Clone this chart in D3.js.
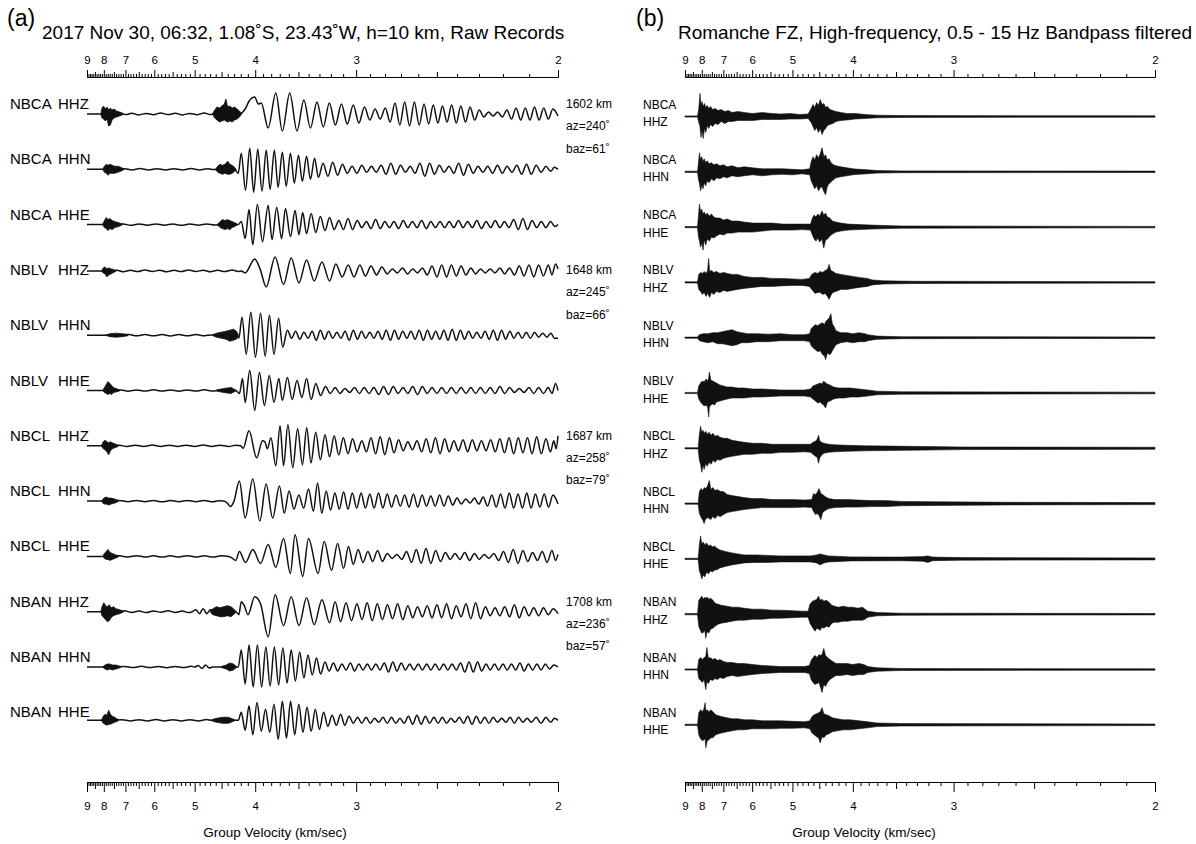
<!DOCTYPE html>
<html>
<head>
<meta charset="utf-8">
<script src="https://cdn.jsdelivr.net/npm/d3@7"></script>
<style>
body { margin: 0; background: #fff; }
svg text { font-family: "Liberation Sans", Arial, Helvetica, sans-serif; fill: #000; }
.axis path, .axis line { stroke: #000; stroke-width: 1; }
</style>
</head>
<body>
<svg id="chart" width="1196" height="844"></svg>
<script>
// station info
var stations = ["NBCA", "NBLV", "NBCL", "NBAN"];
var channels = ["HHZ", "HHN", "HHE"];
var distKm = [1602, 1648, 1687, 1708];
var azDeg = [240, 245, 258, 236];
var bazDeg = [61, 66, 79, 57];
var velLabels = [9, 8, 7, 6, 5, 4, 3, 2];
// mean offset of each raw trace (relative amplitude)
var dcShift = [0, 0, 0, 9, 0, 0, 0, 0, 0, 0, 0, 2];

// raw records: [slowness (s/1000 km), amplitude] extrema
var rawCaZ = [[111.1,0],[122.5,0],[134,0],[138,0.9],[143,-0.6],[148,0.7],[154,-0.9],[160,0.6],[166,-0.7],[172,0.9],[178,-0.6],[184,0.7],[190,-0.9],[196,0.6],[202,-0.7],[208,0.9],[213,-0.6],[216,0],[237,0],[241.7,5],[245,13],[249.6,17],[252.5,10],[255,11],[260.7,-14],[267,21],[272.4,-17],[278.5,21],[284.5,-17],[290.2,14],[295.6,-14],[301,12],[306.2,-13],[311.2,11],[316.2,-11],[321.2,10],[326,-10],[331,9],[335.6,-9],[340.2,7],[344.6,-6],[349,5],[353.2,-5],[357.4,6],[361.4,-8],[365.4,11],[369.4,-11],[373.4,12],[377.4,-12],[381.4,12],[385.4,-11],[389.4,10],[393.2,-10],[397,9],[400.8,-9],[404.6,8],[408.4,-8],[412.2,9],[416,-9],[419.8,8],[423.6,-8],[427.4,7],[431.2,-6],[435,4],[438.8,-3],[442.6,2],[446.4,-2],[450.2,2],[454,-3],[457.8,4],[461.6,-5],[465.4,6],[469.2,-6],[473,6],[476.8,-6],[480.6,7],[484.4,-6],[488.2,6],[492,-5],[495.8,5],[500,-2]];
var rawCaN = [[111.1,0],[124,0],[142,0.6],[148,-0.6],[155,0.7],[162,-0.6],[169,0.6],[176,-0.7],[183,0.6],[190,-0.6],[197,0.7],[204,-0.6],[211,0.6],[216,-0.3],[233,0],[236,-4],[238.5,16],[242,-21],[245.5,21],[248.7,-23],[252.1,20],[255.6,-22],[259.1,19],[262.3,-20],[265.8,19],[268.9,-18],[272.4,17],[275.6,-17],[279.1,16],[282.3,-14],[285.7,14],[288.9,-12],[292.4,13],[295.6,-10],[299,11],[302.2,-8],[306,6],[310,-7],[314,7],[318,-6],[322,5],[326,-4],[330,3],[334,-4],[338,4],[342,-3],[346,3],[350,-3],[354,4],[358,-5],[362,6],[366,-5],[370,4],[374,-3],[378,3],[382,-4],[386,6],[390,-7],[394,6],[398,-5],[402,4],[406,-3],[410,3],[414,-4],[418,6],[422,-6],[426,5],[430,-4],[434,3],[438,-3],[442,3],[446,-4],[450,4],[454,-4],[458,3],[462,-3],[466,4],[470,-5],[474,5],[478,-5],[482,4],[486,-3],[490,3],[494,-2],[497,2],[500,0]];
var rawCaE = [[111.1,0],[124,0],[141,0.6],[147,-0.7],[154,0.6],[161,-0.6],[168,0.7],[175,-0.6],[182,0.6],[189,-0.7],[196,0.6],[203,-0.6],[210,0.7],[217,-0.3],[236,0],[238.5,3],[241.7,-14],[244.9,15],[248,-20],[251.8,20],[256,-17],[260.7,19],[263.9,-15],[267.7,17],[271.8,-14],[275,16],[279.1,-12],[282.9,14],[286.1,-10],[289.2,12],[292.4,-9],[296.2,11],[300,-8],[303.8,8],[307.6,-6],[311.4,7],[315.2,-5],[319,4],[322.8,-5],[326.6,6],[330.4,-5],[334.2,4],[338,-3],[341.8,3],[345.6,-4],[349.4,5],[353.2,-4],[357,3],[360.8,-3],[364.6,3],[368.4,-4],[372.2,4],[376,-3],[379.8,3],[383.6,-3],[387.4,4],[391.2,-4],[395,3],[398.8,-3],[402.6,3],[406.4,-3],[410.2,3],[414,-3],[417.8,4],[421.6,-3],[425.4,3],[429.2,-3],[433,4],[436.8,-4],[440.6,3],[444.4,-3],[448.2,4],[452,-3],[455.8,3],[459.6,-3],[463.4,5],[467.2,-5],[471,6],[474.8,-5],[478.6,4],[482.4,-3],[486.2,3],[490,-3],[493.8,3],[497.6,-2],[500,0]];
var rawLvZ = [[111.1,0],[123,0],[133,0],[136,0.7],[141,-0.9],[147,0.6],[153,-0.7],[159,0.9],[165,-0.6],[171,0.7],[177,-0.9],[183,0.6],[189,-0.7],[195,0.9],[201,-0.6],[207,0.7],[213,-0.9],[219,0.6],[225,-0.7],[231,0.9],[236,-0.6],[238.5,0],[241.7,-2],[249.6,12],[254,2],[259.1,-16],[266.4,14],[273.4,-13.5],[279.7,13],[286.1,-12],[292.4,11],[298.7,-10],[305.1,9],[311.4,-10],[316.6,7],[321.8,-6],[326.8,6],[331.6,-6],[336.4,6],[341,-5],[345.6,5],[350.2,-4],[354.6,4],[359,-3],[363.2,2],[367.4,-2],[371.6,3],[375.8,-3],[380,2],[384,-2],[388,3],[392,-4],[396,5],[400,-6],[404,6],[408,-6],[412,6],[416,-5],[420,5],[424,-4],[428,3],[432,-3],[436,2],[440,-2],[444,2],[448,-2],[452,3],[456,-3],[460,3],[464,-4],[468,5],[472,-5],[476,6],[480,-6],[484,6],[488,-5],[492,6],[495,-4],[498,7],[500,2]];
var rawLvN = [[111.1,0],[126,0],[146,0.6],[152,-0.6],[159,0.7],[166,-0.6],[173,0.6],[180,-0.7],[187,0.6],[194,-0.6],[201,0.7],[208,-0.6],[214,0.3],[228,0],[231,-2],[234,3],[236.5,-3],[239.1,18],[242.6,-19],[246.4,23],[250.2,-22],[254.4,22],[258.2,-21],[261.7,20],[265.5,-19],[269.3,17],[272.7,-12],[276.6,5],[280,-3],[283.4,4],[286.8,-4],[290.2,3],[293.6,-3],[297,4],[300.4,-5],[303.8,5],[307.2,-4],[310.6,4],[314,-3],[317.4,3],[320.8,-3],[324.2,4],[327.6,-5],[331,5],[334.4,-4],[337.8,4],[341.2,-3],[344.6,3],[348,-3],[351.4,4],[354.8,-4],[358.2,5],[361.6,-5],[365,5],[368.4,-4],[371.8,4],[375.2,-3],[378.6,4],[382,-4],[385.4,5],[388.8,-5],[392.2,5],[395.6,-4],[399,4],[402.4,-4],[405.8,5],[409.2,-5],[412.6,6],[416,-5],[419.4,5],[422.8,-4],[426.2,4],[429.6,-3],[433,3],[436.4,-3],[439.8,4],[443.2,-4],[446.6,5],[450,-5],[453.4,5],[456.8,-4],[460.2,4],[463.6,-3],[467,3],[470.4,-3],[473.8,3],[477.2,-3],[480.6,3],[484,-2],[487.4,2],[490.8,-2],[494.2,2],[497,-3],[500,-3]];
var rawLvE = [[111.1,0],[124,0],[139,0.6],[145,-0.7],[152,0.6],[159,-0.6],[166,0.7],[173,-0.6],[180,0.6],[187,-0.7],[194,0.6],[201,-0.6],[208,0.7],[215,-0.6],[222,0.6],[229,-0.7],[234,0],[237,-3],[239.5,12],[241.7,-12],[245.5,20],[249.6,-20],[253.5,18],[257.6,-15],[261.6,15],[265.5,-12],[269.5,12],[272.4,-10],[276.6,13],[280.5,-9],[284.5,10],[288.5,-7],[292.4,12],[296.2,-9],[300,7],[304,-5],[308,4],[312,-3],[316,3],[320,-3],[324,2],[328,-2],[332,3],[336,-3],[340,3],[344,-3],[348,3],[352,-4],[356,4],[360,-4],[364,4],[368,-3],[372,3],[376,-3],[380,4],[384,-4],[388,4],[392,-3],[396,3],[400,-3],[404,3],[408,-3],[412,3],[416,-3],[420,3],[424,-3],[428,3],[432,-3],[436,3],[440,-3],[444,3],[448,-3],[452,4],[456,-3],[460,3],[464,-2],[468,2],[472,-2],[476,3],[480,-3],[484,3],[488,-3],[492,3],[495,-3],[498,7],[500,0]];
var rawClZ = [[111.1,0],[123,0],[134,0],[138,0.6],[144,-0.7],[151,0.6],[158,-0.6],[165,0.7],[172,-0.6],[179,0.6],[186,-0.7],[193,0.6],[200,-0.6],[207,0.7],[214,-0.6],[221,0.6],[228,-0.7],[234,0.6],[238,0],[240,-2.5],[244.9,15],[251.2,-12],[256,5],[258,4],[260,-3],[263,8],[267,-20],[270.5,20],[273.4,-20],[277,21],[281,-22],[285,17],[289,-19],[292.5,18],[296,-17],[300,13.5],[303.8,-14],[307.6,11],[311.4,-11],[315.2,10],[319,-9],[322.8,8],[326.6,-8],[330.4,7],[334.2,-6],[338,5],[341.8,-6],[345.6,8],[349.4,-8],[353.2,9],[357,-9],[360.8,8],[364.6,-7],[368.4,6],[372.2,-5],[376,4],[379.8,-4],[383.6,5],[387.4,-6],[391.2,7],[395,-7],[398.8,8],[402.6,-8],[406.4,7],[410.2,-6],[414,5],[417.8,-5],[421.6,6],[425.4,-6],[429.2,6],[433,-5],[436.8,5],[440.6,-5],[444.4,6],[448.2,-6],[452,7],[455.8,-7],[459.6,8],[463.4,-8],[467.2,8],[471,-7],[474.8,8],[478.6,-8],[482.4,9],[486.2,-8],[490,7],[493.8,-6],[496.5,5],[498.5,-3],[500,10]];
var rawClN = [[111.1,0],[123,0],[138,0.6],[145,-0.6],[152,0.7],[159,-0.6],[166,0.6],[173,-0.7],[180,0.6],[187,-0.6],[194,0.7],[201,-0.6],[208,0.6],[215,-0.7],[220,0.3],[224,0],[227,-2],[229.5,-5.5],[232.5,0],[236.9,20],[241.7,-17],[248,22],[253.8,-20],[259,17],[264.4,-17],[270,15],[274,-12],[278,10],[282,-8],[286,6],[290,-7],[294,12],[298,-10],[301.5,18],[305,-12],[308.6,10],[312.2,-9],[315.8,8],[319.4,-8],[323,9],[326.6,-8],[330.2,8],[333.8,-7],[337.4,8],[341,-7],[344.6,7],[348.2,-7],[351.8,8],[355.4,-7],[359,7],[362.6,-6],[366.2,6],[369.8,-5],[373.4,6],[377,-6],[380.6,7],[384.2,-6],[387.8,6],[391.4,-5],[395,5],[398.6,-5],[402.2,6],[405.8,-5],[409.4,5],[413,-4],[416.6,3],[420.2,-3],[423.8,2],[427.4,-2],[431,3],[434.6,-3],[438.2,4],[441.8,-5],[445.4,6],[449,-6],[452.6,7],[456.2,-7],[459.8,8],[463.4,-7],[467,7],[470.6,-7],[474.2,8],[477.8,-7],[481.4,7],[485,-6],[488.6,7],[492.2,-6],[495.8,6],[500,-3]];
var rawClE = [[111.1,0],[124,0],[138,0.6],[145,-0.6],[152,0.7],[159,-0.6],[166,0.6],[173,-0.7],[180,0.6],[187,-0.6],[194,0.7],[201,-0.6],[208,0.6],[215,-0.7],[222,0.6],[228,0],[230,-1],[234,-4],[236.9,5],[242,-6],[248,7],[254.4,-7],[260.7,12],[267,-11],[273.4,18],[279,-17],[282.9,21.6],[289.2,-20],[294,18],[301.9,-17],[307,15],[313,-14],[318,13],[323,-12],[327,10],[331,-8],[335,7],[339,-6],[343,5],[347,-5],[351,6],[355,-5],[359,3],[363,-2],[367,2],[371,-3],[375,5],[379,-6],[383,7],[387,-7],[391,8],[395,-7],[399,6],[403,-5],[407,4],[411,-3],[415,3],[419,-3],[423,4],[427,-4],[431,3],[435,-3],[439,2],[443,-2],[447,3],[451,-4],[455,5],[459,-6],[463,7],[467,-7],[471,6],[475,-5],[479,4],[483,-4],[487,5],[491,-6],[495,6],[498,-4],[500,2]];
var rawAnZ = [[111.1,0],[122.5,0],[138,0],[142,0.9],[148,-0.7],[154,0.6],[160,-0.9],[166,0.7],[172,-0.6],[178,0.9],[184,-0.7],[190,0.6],[195,-0.9],[198,0],[201,2],[204,-2],[207,3],[210,-2],[213,2],[234,0],[236.5,-3],[238.5,10],[241,6],[244,-3],[249.6,15],[254.4,8],[260.7,-25],[266.5,17],[273.4,-14],[279.7,15],[286.1,-14],[292.4,14],[298.7,-13],[305.1,12],[311.4,-11],[316,10],[320.5,-10],[325,9],[329.5,-9],[334,8],[338.2,-8],[342.4,9],[346.6,-9],[350.8,8],[355,-8],[359.2,7],[363.4,-7],[367.6,8],[371.8,-8],[376,6],[380,-6],[384,5],[388,-5],[392,6],[396,-6],[400,7],[404,-6],[408,8],[412,-7],[416,6],[420,-5],[424,8],[428,-7],[432,9],[436,-7],[440,5],[444,-4],[448,4],[452,-4],[456,5],[460,-5],[464,7],[468,-6],[472,5],[476,-4],[480,4],[484,-4],[488,4],[492,-3],[496,3],[500,-2]];
var rawAnN = [[111.1,0],[124,0],[142,0.6],[149,-0.6],[156,0.7],[163,-0.6],[170,0.6],[177,-0.7],[184,0.6],[191,-0.6],[197,0.7],[200,0],[203,1.5],[206,-1.5],[209,2],[212,-1],[215,0],[236,0],[238.5,17],[241.7,-17],[244.9,22],[248.3,-20],[251.8,22],[255.3,-20],[258.8,20],[262.3,-19],[265.8,20],[269.3,-18],[272.8,19],[276.3,-16],[279.7,17],[283.2,-14],[286.7,15],[290.2,-11],[293.6,12],[297.1,-8],[300.6,9],[304,-7],[307.6,5],[311,-4],[314.6,4],[318,-4],[321.6,3],[325,-3],[328.6,4],[332,-4],[335.6,3],[339,-3],[342.6,3],[346,-3],[349.6,3],[353,-3],[356.6,4],[360,-5],[363.6,5],[367,-4],[370.6,4],[374,-3],[377.6,3],[381,-3],[384.6,3],[388,-3],[391.6,3],[395,-3],[398.6,3],[402,-3],[405.6,3],[409,-3],[412.6,3],[416,-3],[419.6,4],[423,-5],[426.6,5],[430,-5],[433.6,5],[437,-4],[440.6,3],[444,-3],[447.6,3],[451,-3],[454.6,3],[458,-3],[461.6,3],[465,-3],[468.6,4],[472,-4],[475.6,3],[479,-3],[482.6,3],[486,-3],[489.6,3],[493,-2],[496.6,2],[500,0]];
var rawAnE = [[111.1,0],[123,0],[140,0.6],[147,-0.7],[154,0.6],[161,-0.6],[168,0.7],[175,-0.6],[182,0.6],[189,-0.7],[196,0.6],[203,-0.6],[210,0.7],[214,0],[236,0],[238.5,8],[241.7,-10],[244.9,14.5],[248,-14.5],[251.5,17.7],[255,-11],[258.5,11],[262,-12],[265.5,16],[269,-19],[272.4,19],[275.8,-17.7],[279.2,19],[282.6,-14.5],[286,16],[289.4,-12],[292.8,13],[296.2,-11],[299.6,11],[303,-9],[306.5,8],[310,-6],[313.5,5],[317,-5],[320.5,6],[324,-5],[327.5,4],[331,-3],[334.5,3],[338,-3],[341.5,3],[345,-3],[348.5,2],[352,-2],[355.5,3],[359,-3],[362.5,3],[366,-3],[369.5,2],[373,-3],[376.5,4],[380,-4],[383.5,5],[387,-4],[390.5,4],[394,-3],[397.5,3],[401,-3],[404.5,3],[408,-3],[411.5,2],[415,-2],[418.5,3],[422,-3],[425.5,4],[429,-4],[432.5,4],[436,-3],[439.5,3],[443,-3],[446.5,3],[450,-2],[453.5,2],[457,-2],[460.5,3],[464,-3],[467.5,3],[471,-2],[474.5,2],[478,-2],[482,3],[486,-3],[490,3],[494,-2],[497,2],[500,0]];

// noisy body-wave bursts in the raw records: [slowness, up, down]
var burstCaZ = [[[122.5,0,0],[123.5,6,4],[124.8,8,5],[126.2,5,7],[127.6,7,5],[129,4,12],[130.4,6,11],[131.8,4,6],[133.5,5,4],[135.5,3,3],[138,2,2],[141,0.5,0.5]],[[215,0.5,0.5],[216.5,4,4],[218.5,7,6],[220.5,6,8],[222.5,8,7],[224.5,10,6],[225.8,15,7],[227.2,7,8],[229,8,7],[231,6,8],[233,7,6],[235,5,5],[237,3,3],[238.5,0.5,0.5]]];
var burstCaN = [[[124,0,0],[125.5,3,3],[127,5,4],[128.5,4,6],[130,5,4],[132,4,4],[134,3,4],[136.5,3,3],[139,2,2],[141.5,0.5,0.5]],[[217.5,0.5,0.5],[219,3,3],[221,5,4],[223,4,5],[225,5,4],[227.4,8,5],[229,5,5],[231,4,4],[233,2,2],[234,0.5,0.5]]];
var burstCaE = [[[124,0,0],[125.5,4,3],[127,7,4],[128.5,5,6],[130,6,4],[132,4,5],[134,3,3],[137,2,2],[140,0.5,0.5]],[[219,0.5,0.5],[221,3,3],[223,5,4],[225,4,5],[227,5,4],[229,4,5],[231,3,3],[233,2,2],[235,0.5,0.5]]];
var burstLvZ = [[[123,0,0],[124.5,3,2],[126,4,3],[127.5,2,6],[129,3,4],[131,2,3],[133,1.5,1.5],[135,0.5,0.5]]];
var burstLvN = [[[126,0,0],[130,1.5,1.5],[135,2,2],[140,1.5,1.5],[145,0.5,0.5]],[[215,0.5,0.5],[218,2,2],[222,3,3],[226,4,4],[229,5,6],[232,6,5],[234.5,4,4],[236,0.5,0.5]]];
var burstLvE = [[[124,0,0],[125.5,3,2],[127,6,3],[128.5,9,4],[130,7,3],[131.5,5,4],[133,3,2],[135,2,1.5],[138,0.5,0.5]],[[218,0.5,0.5],[224,2,2],[230,3,3],[234,0.5,0.5]]];
var burstClZ = [[[123,0,0],[124.5,4,3],[126,5.5,4],[127.5,4,6],[129,3,9],[130.5,4,5],[132,3,3],[134,2,2],[137,0.5,0.5]]];
var burstClN = [[[123,0,0],[125,3,3],[127,4,3],[129,3,4],[131,3,3],[134,2,2],[137,0.5,0.5]]];
var burstClE = [[[124,0,0],[125.5,3,2],[127,5,3],[128.5,7,3],[130,4,4],[132,3,3],[134,2,2],[137,0.5,0.5]]];
var burstAnZ = [[[122.5,0,0],[123.5,5,4],[125,9,6],[126.5,6,8],[128,5,10],[129.5,7,9],[131,4,6],[133,5,4],[135,3,3],[138,2,2],[141,0.5,0.5]],[[213,0.5,0.5],[215,3,3],[218,5,4],[221,4,5],[224,5,5],[227,6,4],[230,5,5],[232,3,3],[234,0.5,0.5]]];
var burstAnN = [[[124,0,0],[126,2,2],[128,3,3],[130,3,2],[132,2,3],[135,2,2],[139,0.5,0.5]],[[222,0.5,0.5],[226,2,2],[229,4,4],[232,3,3],[234.5,0.5,0.5]]];
var burstAnE = [[[123,0,0],[124.5,4,3],[126,6,4],[127.5,5,5],[129,10,4],[130.5,6,4],[132,4,3],[134,3,2],[137,0.5,0.5]],[[214,0.5,0.5],[218,2,2],[223,3,3],[228,3,3],[233,0.5,0.5]]];

// high-frequency (0.5-15 Hz) envelopes: [slowness, up, down]
var hfCaZ = [[111.1,0.6,0.6],[121.5,0.6,0.6],[122.5,8,6],[123.5,23,10],[124.3,12,21],[125.2,15,14],[126.2,10,22],[127.2,13,12],[128.3,9,16],[129.5,11,9],[130.8,8,12],[132.2,10,8],[134,7,10],[136,8,7],[138.5,6,8],[141,7,5],[144,5,7],[147,6,5],[150,4,5],[155,5,4],[160,4,4],[167,3,4],[175,4,3],[183,3,3],[190,2.5,3],[198,3,2.5],[206,2,2.5],[213,2.5,2],[215.5,8,6],[217,12,10],[218.5,9,14],[220,14,11],[221.5,11,16],[223,17,12],[224.5,12,18],[226,13,14],[227.5,9,12],[229,10,9],[231,7,8],[233.5,6,7],[236,5,5],[240,4,4],[245,3,3.5],[252,3,2.5],[260,2,2],[270,1.3,1.3],[290,0.9,0.9],[500,0.7,0.7]];
var hfCaN = [[111.1,0.6,0.6],[121.5,0.6,0.6],[122.3,10,8],[123.1,19,12],[124,12,19],[125,15,13],[126,10,17],[127,13,11],[128.3,9,14],[129.5,11,9],[131,8,11],[133,9,7],[135,7,9],[137.5,8,6],[140,6,7],[143,7,5],[146,5,6],[150,6,4],[155,4,5],[160,5,4],[167,4,3],[175,3,4],[183,3,3],[192,3,2.5],[200,2.5,3],[208,2,2],[214.3,3,3],[215.5,10,9],[217,15,13],[218.5,12,17],[220,17,14],[221.6,14,19],[223,18,16],[224.5,24,15],[226,15,20],[227.4,17,23],[228.8,12,15],[230.3,13,12],[232,9,10],[234,7,8],[236,6,6],[240,5,5],[245,4,4],[250,3,3],[255,2.5,2.5],[262,2,2],[270,1.3,1.3],[290,0.9,0.9],[500,0.7,0.7]];
var hfCaE = [[111.1,0.6,0.6],[121.5,0.6,0.6],[122.3,12,10],[123.1,23,14],[124,15,20],[125,18,16],[126,13,23],[127,15,13],[128.3,12,18],[129.5,14,12],[131.3,11,14],[133,13,10],[135,10,11],[137,9,9],[140,9,7],[143,7,8],[146,8,6],[150,6,6],[155,6,5],[160,5,5],[167,4,5],[175,4,4],[183,4,3],[192,3,3],[200,3,3],[208,3,2.5],[215,3,3],[216.5,9,8],[218,12,12],[219.5,10,14],[221,13,11],[222.5,11,15],[224.5,16,12],[225.9,12,21],[227.4,14,13],[229,10,12],[231,9,9],[233,6,7],[236,5,5],[240,4,4],[246,3,3],[255,2.5,2.5],[265,2,2],[290,1.1,1.1],[500,0.7,0.7]];
var hfLvZ = [[111.1,0.6,0.6],[121.5,0.6,0.6],[122.5,8,7],[124,10,9],[125.5,9,12],[127,11,10],[128.5,9,14],[129.8,12,11],[130.7,24,13],[131.5,11,15],[133,12,10],[135,10,12],[137,11,9],[140,9,10],[143,10,8],[146,9,9],[150,8,8],[154.6,8,7],[160,6,6],[167,5,5],[175,5,4],[183,4,4],[190,4,3.5],[200,3.5,3],[208,3,3],[214,4,4],[216,8,7],[218.7,10,11],[221,9,10],[223,11,10],[225,10,12],[227,12,11],[229,13,14],[230.3,18,17],[231.8,12,13],[233.5,11,10],[236,9,9],[240,8,7],[245,7,7],[250,6,6],[255,5,5],[262,4,4],[266,2.5,2.5],[275,1.6,1.6],[300,1.1,1.1],[500,0.7,0.7]];
var hfLvN = [[111.1,0.6,0.6],[121.5,0.6,0.6],[123,3,3],[126,4,4],[130,4,5],[134,5,4],[138,5,6],[142,6,6],[146,7,7],[150,8,8],[154,6,7],[158,5,5],[163,4,5],[170,4,4],[180,3.5,4],[190,4,3],[200,3,3],[210,3,3],[214.3,4,4],[215.5,9,8],[217,11,10],[219,13,12],[221,12,14],[223,14,13],[225,15,17],[226.5,13,18],[227.4,16,22],[229,18,15],[230.5,20,17],[231.8,24,16],[233,14,13],[234.5,11,10],[236,7,7],[240,5,5],[245,5,4],[250,4,5],[255,5,4],[260,4,4],[262.3,3,3],[270,1.6,1.6],[290,1,1],[500,0.7,0.7]];
var hfLvE = [[111.1,0.6,0.6],[121.5,0.6,0.6],[122.5,7,6],[124,10,9],[125.4,12,11],[127,11,13],[128.5,14,12],[129.8,12,14],[130.7,15,24],[131.3,21,14],[132.5,13,12],[134,12,11],[135.6,11,12],[137.1,10,9],[140,8,8],[143,7,7],[146,6,6],[150,6,5],[155,5,5],[160,5,5],[167,4,4],[175,4,4],[183,3.5,3.5],[190,3,3],[200,3,3],[210,3,3],[215,4,4],[217,7,6],[219,8,8],[221,9,10],[223,10,9],[224.5,9,11],[225.9,12,12],[227.4,10,15],[229,9,9],[231,8,8],[234,6,6],[238,5,5],[243,5,5],[248,5,4],[255,4,4],[262.3,3,3],[270,1.8,1.8],[290,1.2,1.2],[500,0.8,0.8]];
var hfClZ = [[111.1,0.6,0.6],[122,0.6,0.6],[123,14,12],[124,22,16],[125,16,24],[126,18,17],[127,15,21],[128.3,17,15],[129.5,14,18],[131,16,14],[132.7,13,16],[134.2,15,12],[136,12,14],[138,13,11],[140,11,12],[143,10,10],[146,10,9],[150,8,8],[155,7,7],[160,6,6],[167,5,6],[175,5,5],[183,4,5],[190,4,4],[200,4,4],[210,4,3.5],[215,4,4],[217,6,6],[219,7,8],[220.5,9,9],[221.6,13,15],[222.5,8,10],[224,6,7],[226,5,5],[230,4,4],[235,3.5,3.5],[245,3,3],[260,2.5,2.5],[280,2.2,2.2],[310,1.8,1.8],[340,1.3,1.3],[500,1,1]];
var hfClN = [[111.1,0.6,0.6],[122,0.6,0.6],[123,12,10],[124.5,15,14],[126,13,17],[126.9,16,20],[128,15,16],[129.5,17,14],[131.3,23,15],[132.5,14,16],[134,16,13],[136,13,15],[138,14,12],[140.5,12,13],[142.9,12,11],[146,9,9],[150,8,8],[155,7,7],[160,6,6],[167,5,5],[175,5,4],[183,4,4],[190,4,4],[200,4,4],[210,3.5,3.5],[216,4,4],[217.5,10,8],[219,9,11],[220.5,11,10],[222,15,12],[223.5,10,16],[225,9,9],[227,7,7],[230,5,5],[235,4,4],[245,4,3.5],[255,3.5,3.5],[265,3,3],[277,3,3],[290,2.2,2.2],[320,1.8,1.8],[380,1.3,1.3],[500,1,1]];
var hfClE = [[111.1,0.6,0.6],[122,0.6,0.6],[123,14,12],[124,23,15],[125,15,20],[126.2,17,16],[127.5,14,18],[129,16,13],[130.5,13,15],[132,14,12],[134,12,13],[135.6,13,11],[137.1,11,11],[140,9,9],[143,8,8],[146,7,7],[150,6,6],[155,5,5],[160,4,4],[170,4,3.5],[180,3.5,3.5],[190,3,3],[205,3,3],[215,3,3],[220,4,4],[223,5,6],[226,4,4],[230,3,3],[240,2.5,2.5],[248,2,2],[290,1.8,1.8],[308,2.3,2.3],[312,3,3.5],[316,1.8,1.8],[340,1.3,1.3],[500,1,1]];
var hfAnZ = [[111.1,0.6,0.6],[121.5,0.6,0.6],[122.5,14,12],[123.8,16,16],[125,18,19],[126.5,15,18],[127.5,17,16],[128.3,16,24],[129.5,17,17],[130.8,15,19],[132.2,16,15],[134.2,14,14],[136,11,12],[138.5,10,10],[141,9,9],[145.8,8,8],[150,7,7],[155,7,6],[160,6,6],[167,5,5],[175,5,5],[183,4,4],[190,4,4],[200,3.5,3.5],[208,3,3],[213,3,3],[214.5,10,9],[216.5,13,13],[218.7,14,17],[220.1,15,14],[221.6,18,15],[223,14,16],[224.5,15,13],[226,13,14],[228,14,12],[230.3,12,13],[232.5,9,9],[235,8,8],[238,7,8],[242,8,7],[246,7,7],[250,7,6],[254,6,6],[258,7,6],[260,5,5],[262.3,3,3],[270,1.6,1.6],[290,1,1],[500,0.7,0.7]];
var hfAnN = [[111.1,0.6,0.6],[121.5,0.6,0.6],[122.5,10,9],[124,12,11],[125.5,10,13],[127,12,10],[128.3,13,20],[129.2,22,12],[130.5,11,14],[132,12,10],[134,10,11],[136,11,9],[138,9,10],[140,10,8],[142.9,8,9],[146,7,7],[150,7,6],[155,6,7],[160,6,6],[167,5,5],[175,4,4],[183,3.5,3.5],[190,3,3],[200,3,3],[210,3,3],[214,4,4],[215.5,9,10],[217,12,13],[218.7,14,15],[220.5,12,14],[222,15,13],[223.3,14,18],[224.5,15,23],[225.9,21,15],[227.4,14,17],[229,12,13],[231,10,10],[233.5,8,8],[236,6,6],[240,6,6],[245,6,5],[250,5,6],[255,6,5],[259,5,5],[262.3,3,3],[270,1.7,1.7],[290,1,1],[500,0.7,0.7]];
var hfAnE = [[111.1,0.6,0.6],[121.5,0.6,0.6],[122.5,12,10],[124,15,14],[125.5,13,16],[126.8,16,15],[127.8,22,14],[128.3,14,23],[129.5,15,16],[131,13,15],[132.5,15,13],[134.2,13,13],[136.5,10,10],[139,9,9],[142,8,8],[145.8,7,7],[150,6,6],[155,6,5],[160,5,5],[167,5,4],[175,4,4],[183,4,4],[190,4,3.5],[200,3.5,3.5],[210,3,3],[214.5,4,4],[216,8,8],[218,10,10],[220,11,12],[221.6,12,13],[223,13,18],[224.5,17,12],[226,11,13],[228,10,10],[230.3,9,9],[233,7,7],[237,6,6],[242,5,5],[247.8,5,5],[255,4,4],[262.3,3,3],[270,1.8,1.8],[290,1.2,1.2],[500,0.8,0.8]];

var rawTraces = [rawCaZ, rawCaN, rawCaE, rawLvZ, rawLvN, rawLvE, rawClZ, rawClN, rawClE, rawAnZ, rawAnN, rawAnE];
var rawBursts = [burstCaZ, burstCaN, burstCaE, burstLvZ, burstLvN, burstLvE, burstClZ, burstClN, burstClE, burstAnZ, burstAnN, burstAnE];
var hfTraces = [hfCaZ, hfCaN, hfCaE, hfLvZ, hfLvN, hfLvE, hfClZ, hfClN, hfClE, hfAnZ, hfAnN, hfAnE];

var svg = d3.select('#chart');

// slowness scales (s per 1000 km), labelled in group velocity
var xA = d3.scaleLinear().domain([1000 / 9, 500]).range([87, 558]);
var xB = d3.scaleLinear().domain([1000 / 9, 500]).range([685, 1155]);
var amp = d3.scaleLinear().domain([-30, 30]).range([30, -30]);

var rowStep = 55.3;
function labelY(i) { return 104 + rowStep * i; }
function baseA(i) { return labelY(i) + 10; }
function baseB(i) { return 116.5 + rowStep * i; }

// ticks every 0.1 km/s
var allVel = d3.range(20, 91).map(function(d) { return d / 10; });
var halfVel = allVel.filter(function(v) { return Math.abs(v * 2 - Math.round(v * 2)) < 1e-6 && Math.abs(v - Math.round(v)) > 1e-6; });
var minorVel = allVel.filter(function(v) { return Math.abs(v * 2 - Math.round(v * 2)) > 1e-6; });

function drawAxis(x, y, top) {
    var mk = top ? d3.axisTop : d3.axisBottom;
    var sizes = top ? [3, 5, 7] : [4, 7, 10];
    var g = svg.append('g').attr('class', 'axis').attr('transform', 'translate(0,' + y + ')');
    g.append('g').call(mk(x).tickValues(minorVel.map(function(v){ return 1000 / v; })).tickSize(sizes[0]).tickSizeOuter(0).tickFormat(''));
    g.append('g').call(mk(x).tickValues(halfVel.map(function(v){ return 1000 / v; })).tickSize(sizes[1]).tickSizeOuter(0).tickFormat(''));
    g.append('g').call(mk(x).tickValues(velLabels.map(function(v){ return 1000 / v; })).tickSize(sizes[2]).tickSizeOuter(0)
        .tickPadding(top ? 6 : 10)
        .tickFormat(function(d){ return Math.round(1000 / d); }));
    g.selectAll('text').attr('font-size', 11.5).attr('font-family', '"Liberation Sans", Arial, sans-serif');
}
drawAxis(xA, 77, true);
drawAxis(xB, 77, true);
drawAxis(xA, 782, false);
drawAxis(xB, 782, false);

// titles
svg.append('text').attr('x', 7).attr('y', 26).attr('font-size', 23).text('(a)');
svg.append('text').attr('x', 42).attr('y', 39).attr('font-size', 19)
    .text('2017 Nov 30, 06:32, 1.08\u02daS, 23.43\u02daW, h=10 km, Raw Records');
svg.append('text').attr('x', 636).attr('y', 26).attr('font-size', 23).text('(b)');
svg.append('text').attr('x', 678).attr('y', 39).attr('font-size', 19)
    .text('Romanche FZ, High-frequency, 0.5 - 15 Hz Bandpass filtered');
svg.append('text').attr('x', 275).attr('y', 837).attr('font-size', 13.5).attr('text-anchor', 'middle').text('Group Velocity (km/sec)');
svg.append('text').attr('x', 864).attr('y', 837).attr('font-size', 13.5).attr('text-anchor', 'middle').text('Group Velocity (km/sec)');

// panel (a): raw records
var rawLine = d3.line().curve(d3.curveMonotoneX);
var burstArea = d3.area();

rawTraces.forEach(function(tr, i) {
    var b = baseA(i), dc = dcShift[i];
    var g = svg.append('g').attr('class', 'raw');
    rawBursts[i].forEach(function(seg) {
        g.append('path')
            .attr('d', burstArea
                .x(function(d){ return xA(d[0]); })
                .y0(function(d){ return b + amp(-d[2] + dc); })
                .y1(function(d){ return b + amp(d[1] + dc); })(seg))
            .attr('fill', '#111').attr('stroke', '#111').attr('stroke-width', 0.8);
    });
    g.append('path')
        .attr('d', rawLine.x(function(d){ return xA(d[0]); }).y(function(d){ return b + amp(d[1] + dc); })(tr))
        .attr('fill', 'none').attr('stroke', '#111').attr('stroke-width', 1.5).attr('stroke-linejoin', 'round');

    svg.append('text').attr('x', 10).attr('y', labelY(i) + 5).attr('font-size', 15).text(stations[Math.floor(i / 3)]);
    svg.append('text').attr('x', 58).attr('y', labelY(i) + 5).attr('font-size', 15).text(channels[i % 3]);
});

// distance / azimuth notes
stations.forEach(function(s, k) {
    var y0 = labelY(k * 3);
    var lines = [distKm[k] + ' km', 'az=' + azDeg[k] + '\u02da', 'baz=' + bazDeg[k] + '\u02da'];
    lines.forEach(function(t, j) {
        svg.append('text').attr('x', 566).attr('y', y0 + 4 + j * 22.3).attr('font-size', 12).text(t);
    });
});

// panel (b): high-frequency envelopes
var hfArea = d3.area();
hfTraces.forEach(function(tr, i) {
    var b = baseB(i);
    svg.append('path')
        .attr('d', hfArea
            .x(function(d){ return xB(d[0]); })
            .y0(function(d){ return b + amp(-d[2]); })
            .y1(function(d){ return b + amp(d[1]); })(tr))
        .attr('fill', '#111').attr('stroke', '#111').attr('stroke-width', 0.6);
    svg.append('text').attr('x', 643).attr('y', b - 8).attr('font-size', 12).text(stations[Math.floor(i / 3)]);
    svg.append('text').attr('x', 643).attr('y', b + 9.5).attr('font-size', 12).text(channels[i % 3]);
});
</script>
</body>
</html>
